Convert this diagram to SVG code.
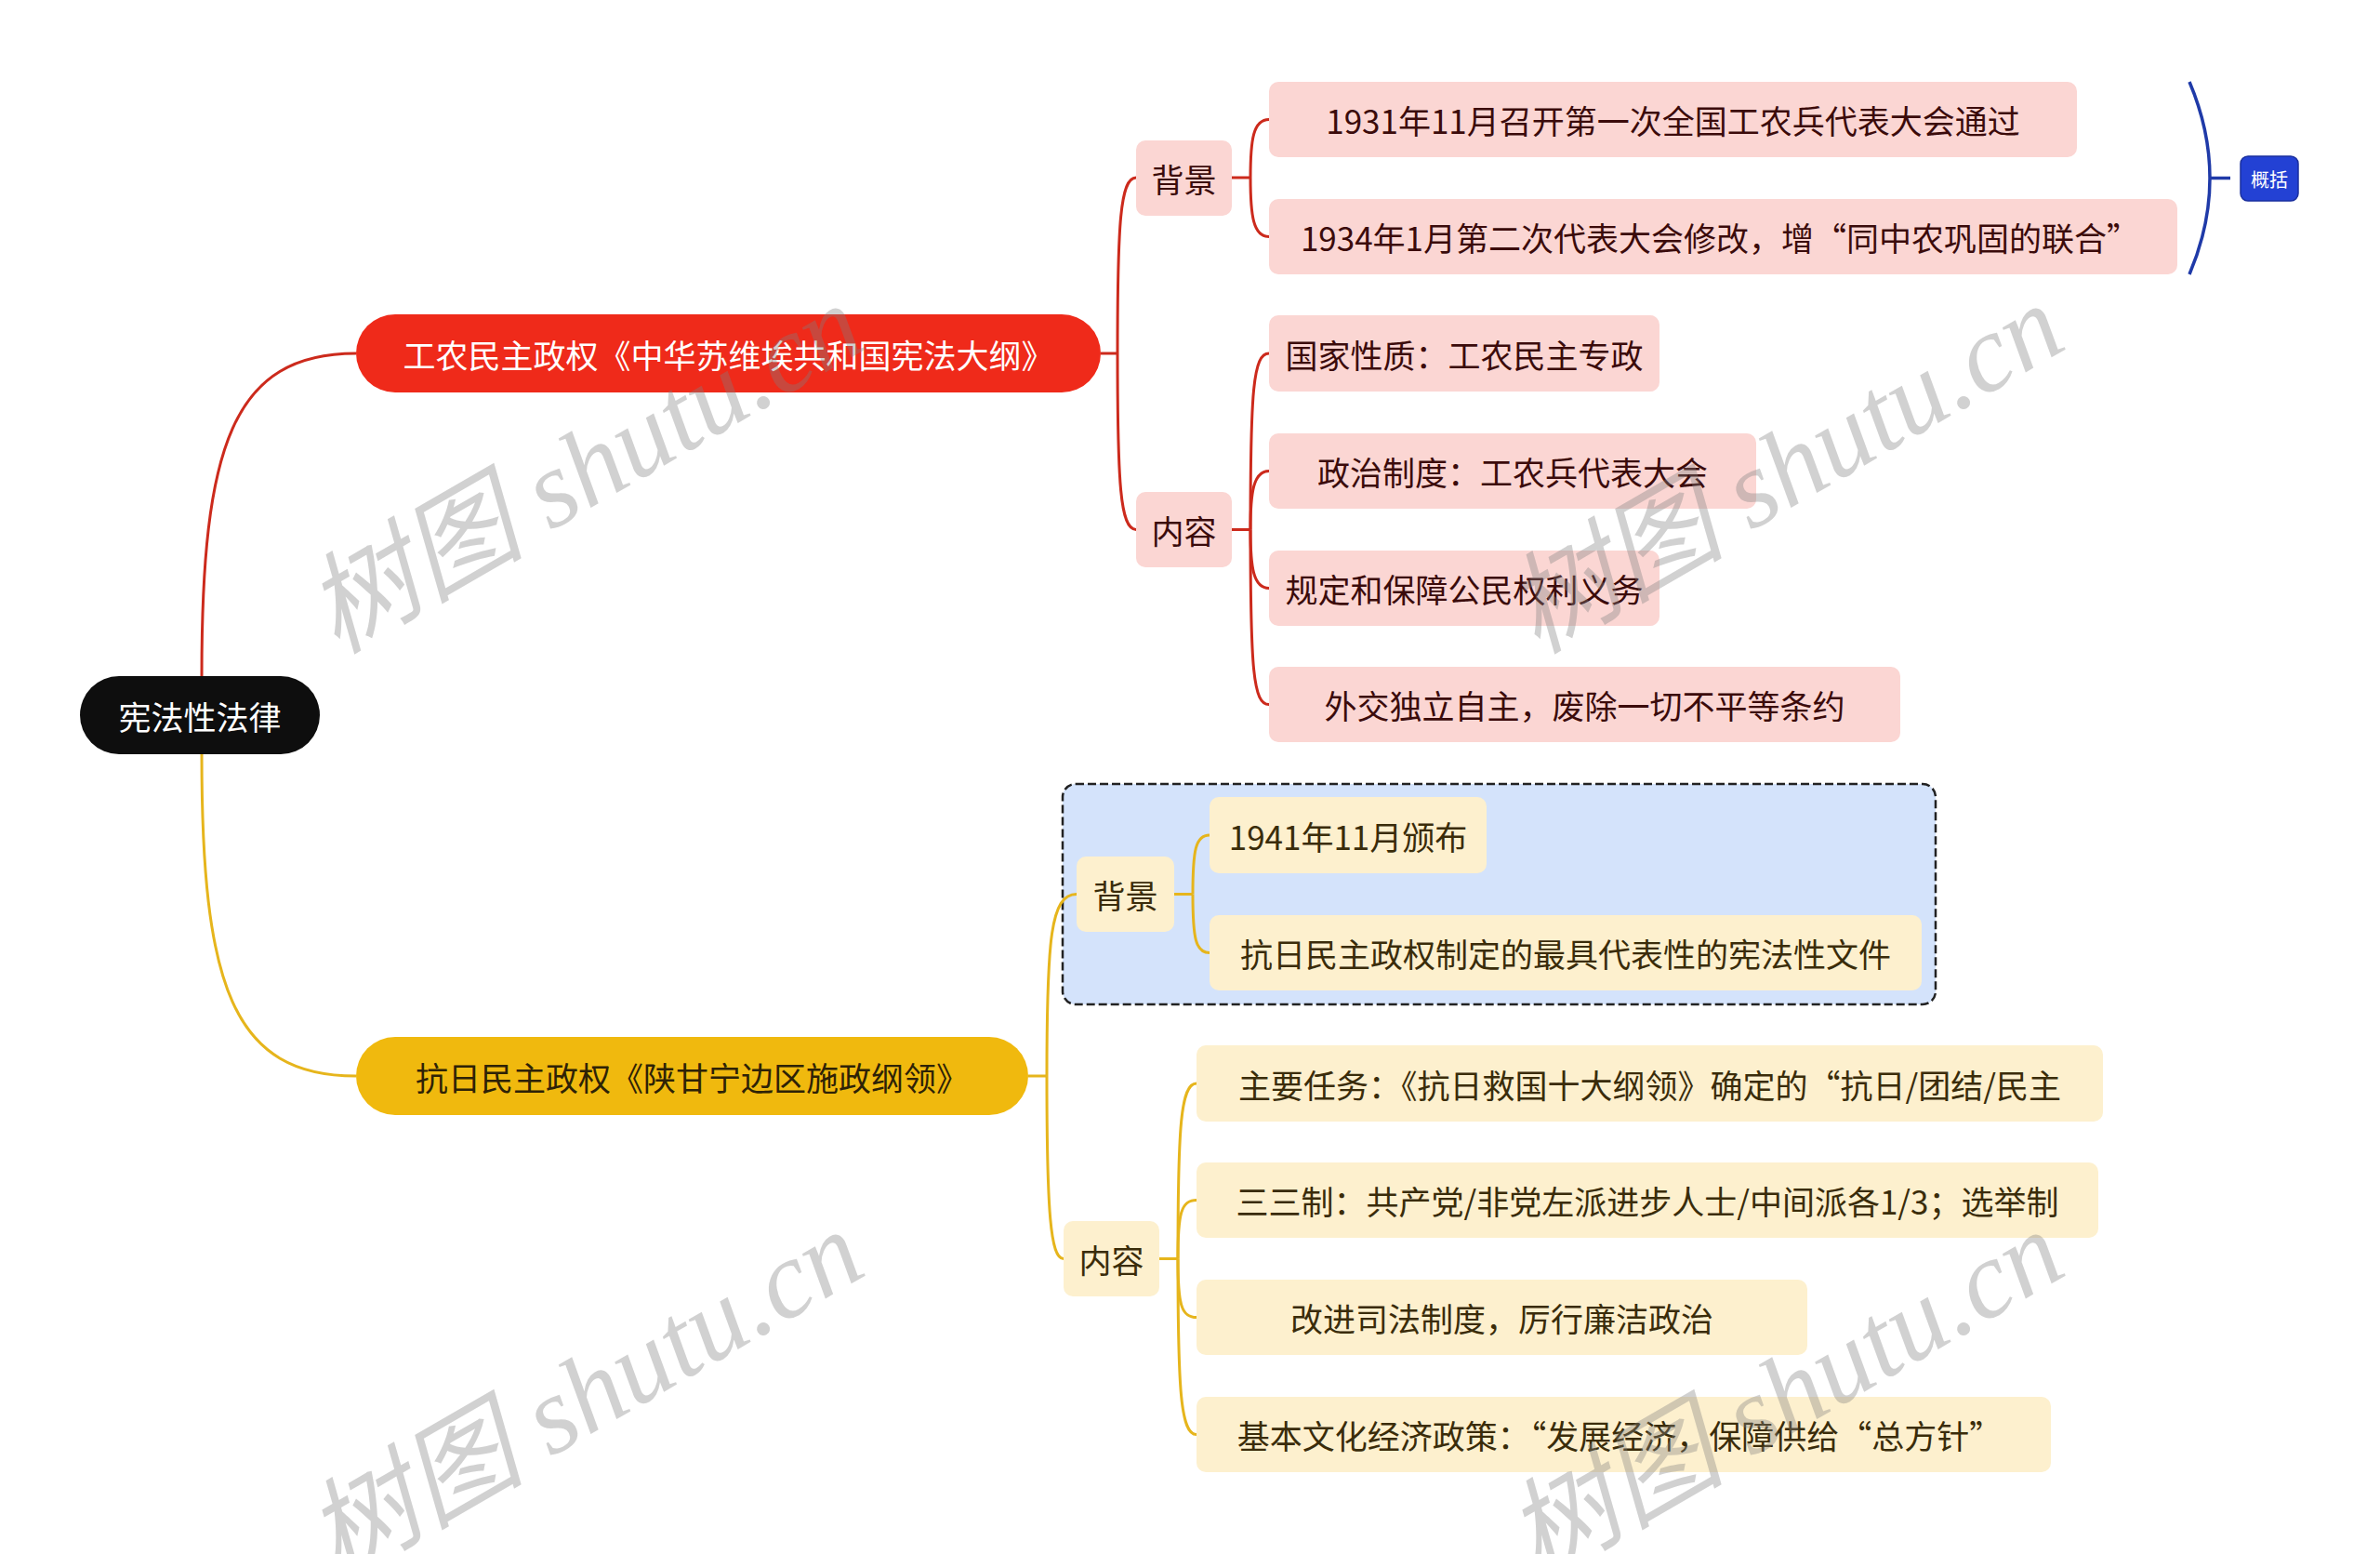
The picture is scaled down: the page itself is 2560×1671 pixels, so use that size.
<svg xmlns="http://www.w3.org/2000/svg" width="2560" height="1671" viewBox="0 0 2560 1671">
<style>
text{font-family:"Noto Sans CJK SC","Noto Sans",sans-serif;font-size:35px;text-anchor:middle;dominant-baseline:central}
.red-l{fill:none;stroke:#CC2A1C;stroke-width:3}
.yel-l{fill:none;stroke:#E6B51C;stroke-width:3}
.blu-l{fill:none;stroke:#1F3AA8;stroke-width:3.5}
.pink{fill:#FBD6D3}
.pink-t{fill:#3B0B0B}
.cream{fill:#FDF0CE}
.cream-t{fill:#3A2C0A}
.wm{font-family:"Liberation Serif","Noto Sans CJK SC",serif;font-style:italic;font-size:118px;fill:#808080;fill-opacity:0.36;text-anchor:start;dominant-baseline:alphabetic}
</style>
<rect width="2560" height="1671" fill="#FFFFFF"/>

<g id="summary-boundary">
<rect x="1143" y="843" width="939" height="237" rx="14" fill="#D4E3FB" stroke="#222222" stroke-width="2.5" stroke-dasharray="9 4"/>
</g>

<g id="connectors">
<path class="red-l" d="M217,727 C217,480 250,380 383,380"/>
<path class="yel-l" d="M217,811 C217,1060 250,1157 383,1157"/>
<path class="red-l" d="M1184,380 L1202,380"/>
<path class="red-l" d="M1202,380 C1202,240 1205,191 1222,191"/>
<path class="red-l" d="M1202,380 C1202,520 1205,569.5 1222,569.5"/>
<path class="red-l" d="M1325,191 L1345,191"/>
<path class="red-l" d="M1345,191 C1345,150 1348,128.5 1365,128.5"/>
<path class="red-l" d="M1345,191 C1345,232 1348,254.5 1365,254.5"/>
<path class="red-l" d="M1325,569.5 L1345,569.5"/>
<path class="red-l" d="M1345,569.5 C1345,420 1348,380 1365,380"/>
<path class="red-l" d="M1345,569.5 C1345,530 1348,506.5 1365,506.5"/>
<path class="red-l" d="M1345,569.5 C1345,610 1348,632.5 1365,632.5"/>
<path class="red-l" d="M1345,569.5 C1345,720 1348,757.5 1365,757.5"/>
<path class="yel-l" d="M1106,1157 L1126,1157"/>
<path class="yel-l" d="M1126,1157 C1126,1010 1130,961.5 1158,961.5"/>
<path class="yel-l" d="M1126,1157 C1126,1304 1130,1353.5 1144,1353.5"/>
<path class="yel-l" d="M1263,961.5 L1283,961.5"/>
<path class="yel-l" d="M1283,961.5 C1283,914 1286,898 1301,898"/>
<path class="yel-l" d="M1283,961.5 C1283,1009 1286,1024.5 1301,1024.5"/>
<path class="yel-l" d="M1247,1353.5 L1267,1353.5"/>
<path class="yel-l" d="M1267,1353.5 C1267,1212 1270,1165 1287,1165"/>
<path class="yel-l" d="M1267,1353.5 C1267,1306 1270,1290.5 1287,1290.5"/>
<path class="yel-l" d="M1267,1353.5 C1267,1401 1270,1416.5 1287,1416.5"/>
<path class="yel-l" d="M1267,1353.5 C1267,1495 1270,1542.5 1287,1542.5"/>
<path class="blu-l" d="M2355,88 Q2399,191.5 2355,295"/>
<path class="blu-l" d="M2377,191.5 L2399,191.5"/>
</g>

<g id="root">
<rect x="86" y="727" width="258" height="84" rx="42" fill="#0E0E0E"/>
<text x="215" y="769" fill="#FFFFFF">宪法性法律</text>
</g>

<g id="branch-red">
<rect x="383" y="338" width="801" height="84" rx="42" fill="#EF2A1A"/>
<text x="783.5" y="380" fill="#FFFFFF">工农民主政权《中华苏维埃共和国宪法大纲》</text>
</g>

<g id="branch-yellow">
<rect x="383" y="1115" width="723" height="84" rx="42" fill="#F0B90E"/>
<text x="744.5" y="1157" fill="#2E2206">抗日民主政权《陕甘宁边区施政纲领》</text>
</g>

<g id="red-bg">
<rect class="pink" x="1222" y="151" width="103" height="81" rx="10"/>
<text class="pink-t" x="1273.5" y="191.5">背景</text>
</g>
<g id="red-nr">
<rect class="pink" x="1222" y="529" width="103" height="81" rx="10"/>
<text class="pink-t" x="1273.5" y="569.5">内容</text>
</g>
<g id="red-c1">
<rect class="pink" x="1365" y="88" width="869" height="81" rx="10"/>
<text class="pink-t" x="1799.5" y="128.5">1931年11月召开第一次全国工农兵代表大会通过</text>
</g>
<g id="red-c2">
<rect class="pink" x="1365" y="214" width="977" height="81" rx="10"/>
<text class="pink-t" x="1850" y="254.5">1934年1月第二次代表大会修改，增“同中农巩固的联合”</text>
</g>
<g id="red-c3">
<rect class="pink" x="1365" y="339" width="420" height="82" rx="10"/>
<text class="pink-t" x="1575" y="380">国家性质：工农民主专政</text>
</g>
<g id="red-c4">
<rect class="pink" x="1365" y="466" width="524" height="81" rx="10"/>
<text class="pink-t" x="1627" y="506.5">政治制度：工农兵代表大会</text>
</g>
<g id="red-c5">
<rect class="pink" x="1365" y="592" width="420" height="81" rx="10"/>
<text class="pink-t" x="1575" y="632.5">规定和保障公民权利义务</text>
</g>
<g id="red-c6">
<rect class="pink" x="1365" y="717" width="679" height="81" rx="10"/>
<text class="pink-t" x="1704.5" y="757.5">外交独立自主，废除一切不平等条约</text>
</g>

<g id="summary">
<rect x="2410" y="168" width="62" height="48" rx="8" fill="#2341D4" stroke="#1A2F9E" stroke-width="1.5"/>
<text x="2441" y="192" fill="#FFFFFF" style="font-size:20px">概括</text>
</g>

<g id="yel-bg">
<rect class="cream" x="1158" y="921" width="105" height="81" rx="10"/>
<text class="cream-t" x="1210.5" y="961.5">背景</text>
</g>
<g id="yel-b1">
<rect class="cream" x="1301" y="857" width="298" height="82" rx="10"/>
<text class="cream-t" x="1450" y="898">1941年11月颁布</text>
</g>
<g id="yel-b2">
<rect class="cream" x="1301" y="984" width="766" height="81" rx="10"/>
<text class="cream-t" x="1684" y="1024.5">抗日民主政权制定的最具代表性的宪法性文件</text>
</g>
<g id="yel-nr">
<rect class="cream" x="1144" y="1313" width="103" height="81" rx="10"/>
<text class="cream-t" x="1195.5" y="1353.5">内容</text>
</g>
<g id="yel-c1">
<rect class="cream" x="1287" y="1124" width="975" height="82" rx="10"/>
<text class="cream-t" x="1774.5" y="1165">主要任务：《抗日救国十大纲领》确定的“抗日/团结/民主</text>
</g>
<g id="yel-c2">
<rect class="cream" x="1287" y="1250" width="970" height="81" rx="10"/>
<text class="cream-t" x="1772" y="1290.5">三三制：共产党/非党左派进步人士/中间派各1/3；选举制</text>
</g>
<g id="yel-c3">
<rect class="cream" x="1287" y="1376" width="657" height="81" rx="10"/>
<text class="cream-t" x="1615.5" y="1416.5">改进司法制度，厉行廉洁政治</text>
</g>
<g id="yel-c4">
<rect class="cream" x="1287" y="1502" width="919" height="81" rx="10"/>
<text class="cream-t" x="1742" y="1542.5">基本文化经济政策：“发展经济，保障供给“总方针”</text>
</g>

<g id="watermarks">
<text class="wm" x="362" y="704" transform="rotate(-30 362 704)">树图 shutu.cn</text>
<text class="wm" x="1653" y="704" transform="rotate(-30 1653 704)">树图 shutu.cn</text>
<text class="wm" x="362" y="1700" transform="rotate(-30 362 1700)">树图 shutu.cn</text>
<text class="wm" x="1653" y="1700" transform="rotate(-30 1653 1700)">树图 shutu.cn</text>
</g>
</svg>
